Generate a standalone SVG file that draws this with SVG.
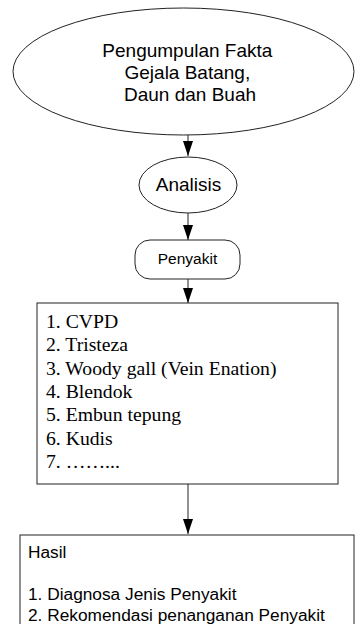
<svg xmlns="http://www.w3.org/2000/svg" width="355" height="624" viewBox="0 0 355 624">
  <defs>
    <marker id="arrow" viewBox="0 0 15 10" refX="15" refY="5" markerWidth="15" markerHeight="10" markerUnits="userSpaceOnUse" orient="auto">
      <path d="M0,0 L15,5 L0,10 Z" fill="#000"/>
    </marker>
    <style>
      .shape { fill: #fff; stroke: #222; stroke-width: 1; }
      .sans { font-family: "Liberation Sans", Arial, sans-serif; fill: #000; }
      .serif { font-family: "Liberation Serif", "Times New Roman", serif; fill: #000; }
      .conn { stroke: #222; stroke-width: 1; fill: none; }
    </style>
  </defs>
  <rect width="355" height="624" fill="#fff"/>

  <g id="connectors">
    <line class="conn" x1="188" y1="135" x2="188" y2="156" marker-end="url(#arrow)"/>
    <line class="conn" x1="188" y1="213" x2="188" y2="240" marker-end="url(#arrow)"/>
    <line class="conn" x1="188" y1="279" x2="188" y2="303" marker-end="url(#arrow)"/>
    <line class="conn" x1="188" y1="484" x2="188" y2="534" marker-end="url(#arrow)"/>
  </g>

  <g id="fakta">
    <ellipse class="shape" cx="183.5" cy="71.5" rx="170.5" ry="63.5"/>
    <text class="sans" font-size="19" text-anchor="middle">
      <tspan x="190" y="57">Pengumpulan Fakta</tspan>
      <tspan x="190" y="79">Gejala Batang,</tspan>
      <tspan x="190" y="101">Daun dan Buah</tspan>
    </text>
  </g>

  <g id="analisis">
    <ellipse class="shape" cx="188" cy="185" rx="49" ry="28"/>
    <text class="sans" font-size="19" text-anchor="middle" x="188.5" y="191">Analisis</text>
  </g>

  <g id="penyakit">
    <rect class="shape" x="135" y="240" width="105" height="39" rx="15" ry="15"/>
    <text class="sans" font-size="15.5" text-anchor="middle" x="187.5" y="264">Penyakit</text>
  </g>

  <g id="daftar">
    <rect class="shape" x="37" y="303" width="301" height="181"/>
    <text class="serif" font-size="19.7">
      <tspan x="46" y="328">1. CVPD</tspan>
      <tspan x="46" y="351.3">2. Tristeza</tspan>
      <tspan x="46" y="374.7">3. Woody gall (Vein Enation)</tspan>
      <tspan x="46" y="398">4. Blendok</tspan>
      <tspan x="46" y="421.3">5. Embun tepung</tspan>
      <tspan x="46" y="444.7">6. Kudis</tspan>
      <tspan x="46" y="468">7. ……...</tspan>
    </text>
  </g>

  <g id="hasil">
    <rect class="shape" x="20" y="535" width="334" height="100"/>
    <text class="sans" font-size="17.3">
      <tspan x="28" y="558">Hasil</tspan>
      <tspan x="28" y="600">1. Diagnosa Jenis Penyakit</tspan>
      <tspan x="28" y="621">2. Rekomendasi penanganan Penyakit</tspan>
    </text>
  </g>
</svg>
